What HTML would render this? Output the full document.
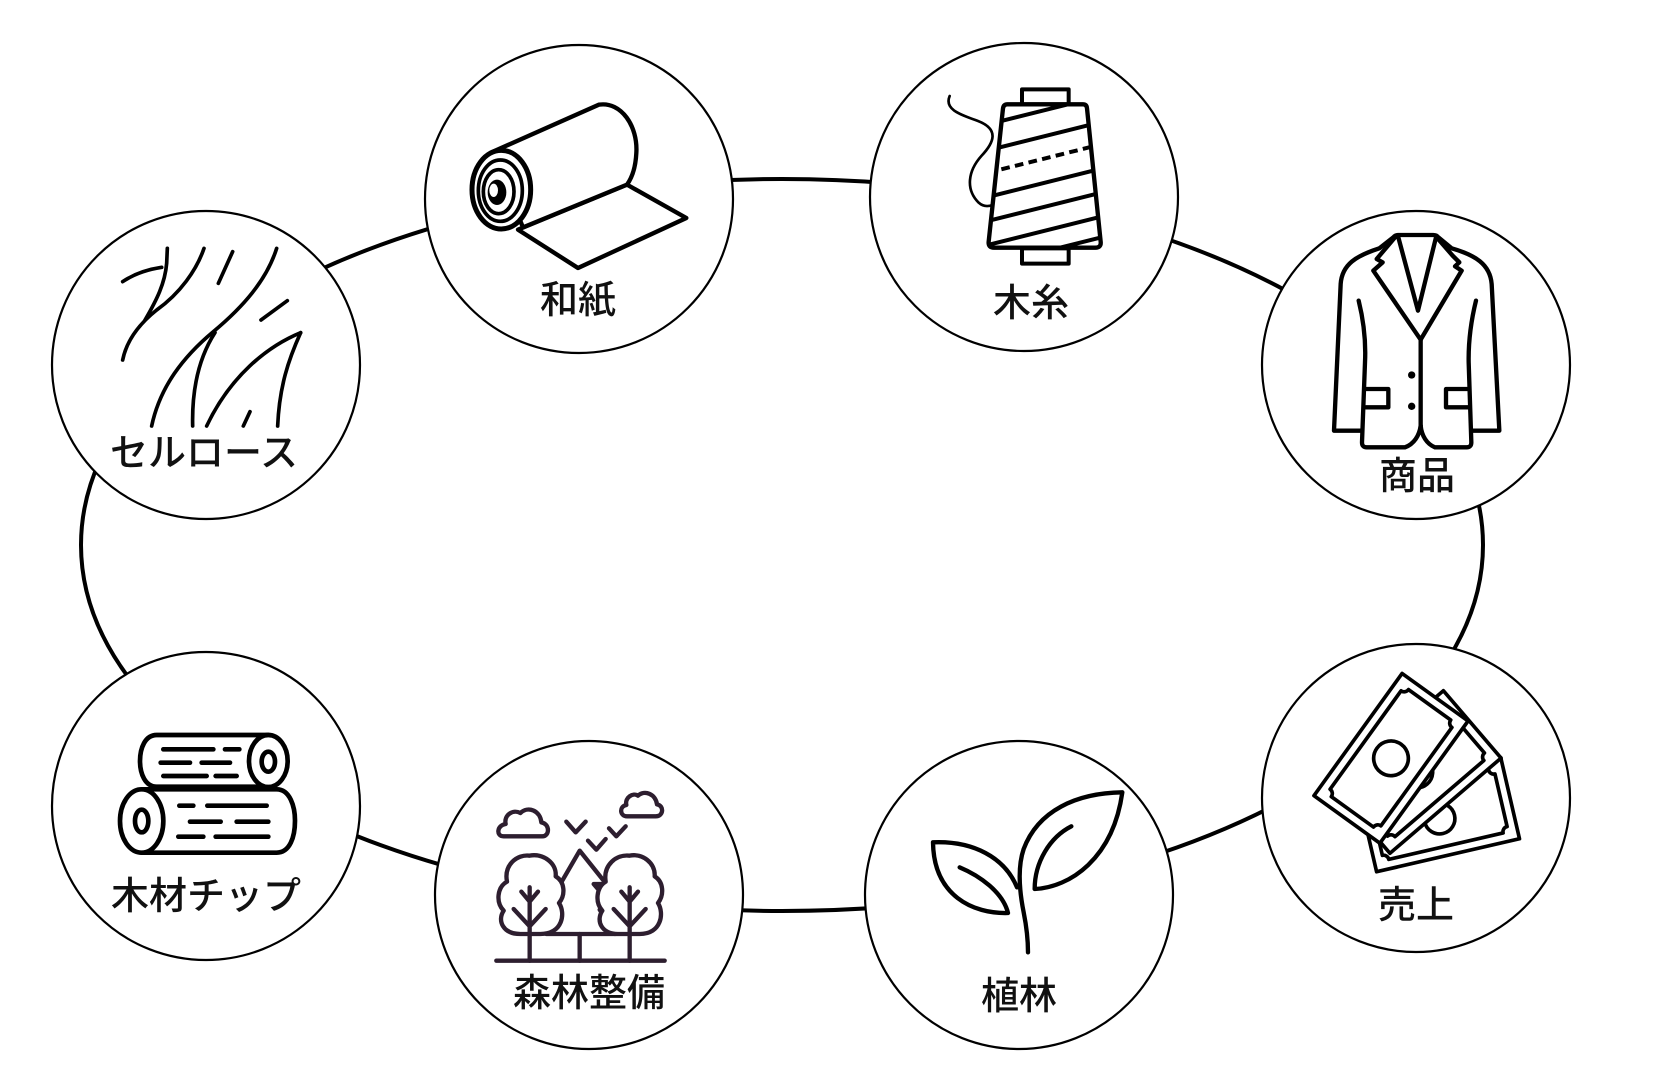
<!DOCTYPE html>
<html><head><meta charset="utf-8"><style>
html,body{margin:0;padding:0;background:#fff;}
svg{display:block;}
text{font-family:"Liberation Sans","Noto Sans CJK JP",sans-serif;font-size:38px;font-weight:500;fill:#111;}
</style></head><body>
<svg width="1664" height="1091" viewBox="0 0 1664 1091" xmlns="http://www.w3.org/2000/svg">
<rect width="1664" height="1091" fill="#fff"/>
<ellipse cx="782" cy="545" rx="701" ry="366" fill="none" stroke="#000" stroke-width="4"/>
<g fill="#fff" stroke="#000" stroke-width="2.2">
<circle cx="206" cy="365" r="154"/>
<circle cx="579" cy="199" r="154"/>
<circle cx="1024" cy="197" r="154"/>
<circle cx="1416" cy="365" r="154"/>
<circle cx="1416" cy="798" r="154"/>
<circle cx="1019" cy="895" r="154"/>
<circle cx="589" cy="895" r="154"/>
<circle cx="206" cy="806" r="154"/>
</g>

<!-- セルロース -->
<g transform="translate(50,210) scale(0.33333)" fill="none" stroke="#000" stroke-width="11" stroke-linecap="round">
<path d="M218,215 C255,190 295,178 335,172"/>
<path d="M352,115 L350,160 C345,220 320,270 285,330"/>
<path d="M462,115 C440,180 390,250 320,300 C270,340 230,390 218,450"/>
<path d="M548,125 L505,220"/>
<path d="M680,115 C650,210 580,290 490,365 C400,440 330,530 305,648"/>
<path d="M495,368 C455,430 425,520 428,648"/>
<path d="M712,272 L633,330"/>
<path d="M752,368 C650,410 540,500 470,648"/>
<path d="M752,368 C715,450 688,530 683,648"/>
<path d="M600,605 L580,648"/>
</g>

<!-- 和紙 -->
<g transform="translate(423,43) scale(0.33333)" fill="#fff" stroke="#000" stroke-width="13" stroke-linejoin="round" stroke-linecap="round">
<path d="M612,425 L790,525 L465,675 L285,560 Z"/>
<path d="M205,328 L528,185 C595,175 645,250 640,330 C638,370 630,400 612,425 L300,553 Z"/>
<ellipse cx="235" cy="440" rx="88" ry="118" stroke-width="15"/>
<ellipse cx="232" cy="443" rx="66" ry="92" stroke-width="11"/>
<ellipse cx="227" cy="446" rx="46" ry="66" stroke-width="11"/>
<ellipse cx="222" cy="448" rx="28" ry="38" fill="#000" stroke="none"/>
<ellipse cx="212" cy="442" rx="13" ry="20" fill="#fff" stroke="none"/>
</g>

<!-- 木糸 -->
<g transform="translate(868,41) scale(0.33333)" stroke="#000" stroke-linecap="round" stroke-linejoin="round">
<defs><clipPath id="cone"><path d="M418,190 L645,190 Q656,190 657,202 L698,602 Q700,620 682,620 L378,620 Q360,620 362,602 L405,202 Q407,190 418,190 Z"/></clipPath></defs>
<rect x="462" y="145" width="140" height="45" fill="#fff" stroke-width="12"/>
<rect x="462" y="622" width="140" height="46" fill="#fff" stroke-width="12"/>
<path d="M418,190 L645,190 Q656,190 657,202 L698,602 Q700,620 682,620 L378,620 Q360,620 362,602 L405,202 Q407,190 418,190 Z" fill="#fff" stroke="none"/>
<g clip-path="url(#cone)" stroke-width="12" fill="none">
<path d="M350,252.5 L720,160"/>
<path d="M350,330.5 L720,238"/>
<path d="M400,385 L720,305" stroke-dasharray="26 16" stroke-linecap="butt"/>
<path d="M350,470.5 L720,378"/>
<path d="M350,542.5 L720,450"/>
<path d="M350,614.5 L720,522"/>
<path d="M350,676.5 L720,584"/>
</g>
<path d="M418,190 L645,190 Q656,190 657,202 L698,602 Q700,620 682,620 L378,620 Q360,620 362,602 L405,202 Q407,190 418,190 Z" fill="none" stroke-width="13"/>
<path d="M245,165 C228,205 275,220 330,240 C395,265 378,305 340,345 C300,390 292,445 332,485 C345,497 360,497 374,492" fill="none" stroke-width="8"/>
</g>

<!-- 商品 -->
<g transform="translate(1260,209) scale(0.33333)" fill="none" stroke="#000" stroke-width="13" stroke-linejoin="round" stroke-linecap="round">
<path d="M305,665 L222,665 L242,225 C246,165 290,140 358,118 L400,85 Q405,78 415,78 L520,78 Q530,78 535,85 L575,118 C645,138 690,165 695,225 L718,665 L635,665"/>
<path d="M296,275 C312,340 318,400 315,460 L306,700 Q306,715 320,715 L435,715 C462,705 478,680 482,650"/>
<path d="M648,275 C632,340 625,400 626,460 L634,700 Q634,715 620,715 L525,715 C500,705 485,680 482,650"/>
<path d="M482,392 L482,650"/>
<path d="M405,85 L350,150 L368,160 L340,185 L482,392"/>
<path d="M415,85 L474,305 L528,85"/>
<path d="M530,85 L578,140 L598,160 L585,172 L605,185 L482,392"/>
<circle cx="455" cy="498" r="11" fill="#000" stroke="none"/>
<circle cx="455" cy="592" r="11" fill="#000" stroke="none"/>
<path d="M318,540 L385,540 L385,595 L318,595"/>
<path d="M625,540 L558,540 L558,595 L625,595"/>
</g>

<!-- 売上 -->
<g transform="translate(1260,642) scale(0.33333)" fill="#fff" stroke="#000" stroke-width="11" stroke-linejoin="round">
<g transform="translate(536,518) rotate(-13)">
<rect x="-220" y="-125" width="440" height="250"/>
<path d="M-176,-97 L176,-97 A16,16 0 0 0 192,-81 L192,81 A16,16 0 0 0 176,97 L-176,97 A16,16 0 0 0 -192,81 L-192,-81 A16,16 0 0 0 -176,-97 Z"/>
<circle cx="0" cy="12" r="46"/>
</g>
<g transform="translate(470,390) rotate(49.4)">
<rect x="-133" y="-219.5" width="266" height="439"/>
<path d="M-89,-191.5 L89,-191.5 A16,16 0 0 0 105,-175.5 L105,175.5 A16,16 0 0 0 89,191.5 L-89,191.5 A16,16 0 0 0 -105,175.5 L-105,-175.5 A16,16 0 0 0 -89,-191.5 Z"/>
<circle cx="0" cy="0" r="48"/>
</g>
<g transform="translate(393,349) rotate(35.8)">
<rect x="-122" y="-226" width="244" height="452"/>
<path d="M-78,-198 L78,-198 A16,16 0 0 0 94,-182 L94,182 A16,16 0 0 0 78,198 L-78,198 A16,16 0 0 0 -94,182 L-94,-182 A16,16 0 0 0 -78,-198 Z"/>
<circle cx="0" cy="0" r="52"/>
</g>
</g>

<!-- 植林 -->
<g transform="translate(863,739) scale(0.33333)" fill="none" stroke="#000" stroke-width="13" stroke-linejoin="round" stroke-linecap="round">
<path d="M625,262 C560,295 515,370 515,450 C620,445 750,360 778,160 C640,162 525,215 482,330 C465,380 468,450 482,520 C492,570 495,600 495,640"/>
<path d="M290,385 C350,410 420,460 435,522 C330,525 212,470 210,310 C330,305 425,355 462,445"/>
</g>

<!-- 森林整備 -->
<g transform="translate(433,739) scale(0.33333)" fill="none" stroke="#2d1e2f" stroke-width="13" stroke-linejoin="round" stroke-linecap="round">
<path d="M212,292 L328,292 C350,292 352,255 325,250 C322,215 285,200 262,222 C240,210 212,228 218,255 C192,258 188,292 212,292 Z"/>
<path d="M582,232 L668,232 C692,232 694,200 672,196 C668,165 635,152 615,170 C600,160 575,175 580,198 C558,202 560,232 582,232 Z"/>
<path d="M400,248 L428,280 L458,248"/>
<path d="M465,305 L490,332 L518,300"/>
<path d="M528,268 L550,292 L578,262"/>
<path d="M440,335 L520,435 L482,435 L548,512 L500,512 L545,585 L340,585 L385,430 Z" fill="#fff"/>
<path d="M440,585 L440,665"/>
<path d="M262,585 C210,585 192,545 212,515 C188,490 192,445 222,428 C212,378 252,345 290,350 C330,342 372,372 368,412 C396,428 398,468 378,492 C398,522 390,585 322,585 Z" fill="#fff"/>
<path d="M290,445 L290,665 M265,458 L290,488 L315,458 M242,510 L290,562 L338,510"/>
<path d="M555,585 C505,585 488,545 508,515 C485,490 490,445 518,428 C510,378 550,345 590,350 C628,342 668,372 665,412 C692,428 694,468 675,492 C694,522 686,585 620,585 Z" fill="#fff"/>
<path d="M590,445 L590,665 M565,458 L590,488 L615,458 M542,510 L590,562 L638,510"/>
<path d="M190,665 L695,665"/>
</g>

<!-- 木材チップ -->
<g transform="translate(50,650) scale(0.33333)" fill="#fff" stroke="#000" stroke-width="14" stroke-linejoin="round" stroke-linecap="round">
<path d="M320,255 L655,255 L655,410 L320,410 C285,410 270,370 270,333 C270,295 285,255 320,255 Z"/>
<ellipse cx="655" cy="333" rx="58" ry="78"/>
<ellipse cx="655" cy="335" rx="20" ry="30"/>
<path d="M340,298 L490,298 M525,298 L568,298 M332,338 L420,338 M455,338 L540,338 M340,378 L470,378 M497,378 L560,378" fill="none"/>
<path d="M275,418 L680,418 C720,418 735,470 735,512 C735,560 720,608 680,608 L275,608 Z"/>
<ellipse cx="275" cy="513" rx="65" ry="95"/>
<ellipse cx="275" cy="513" rx="20" ry="34"/>
<path d="M388,467 L430,467 M472,467 L650,467 M420,515 L512,515 M560,515 L655,515 M385,560 L460,560 M497,560 L655,560" fill="none"/>
</g>

<!-- labels -->
<g text-anchor="middle" dominant-baseline="central">
<text x="204" y="454">セルロース</text>
<text x="578" y="301">和紙</text>
<text x="1031" y="304">木糸</text>
<text x="1417" y="477">商品</text>
<text x="1416" y="906">売上</text>
<text x="1019" y="997">植林</text>
<text x="589" y="994">森林整備</text>
<text x="206" y="897">木材チップ</text>
</g>
</svg>
</body></html>
